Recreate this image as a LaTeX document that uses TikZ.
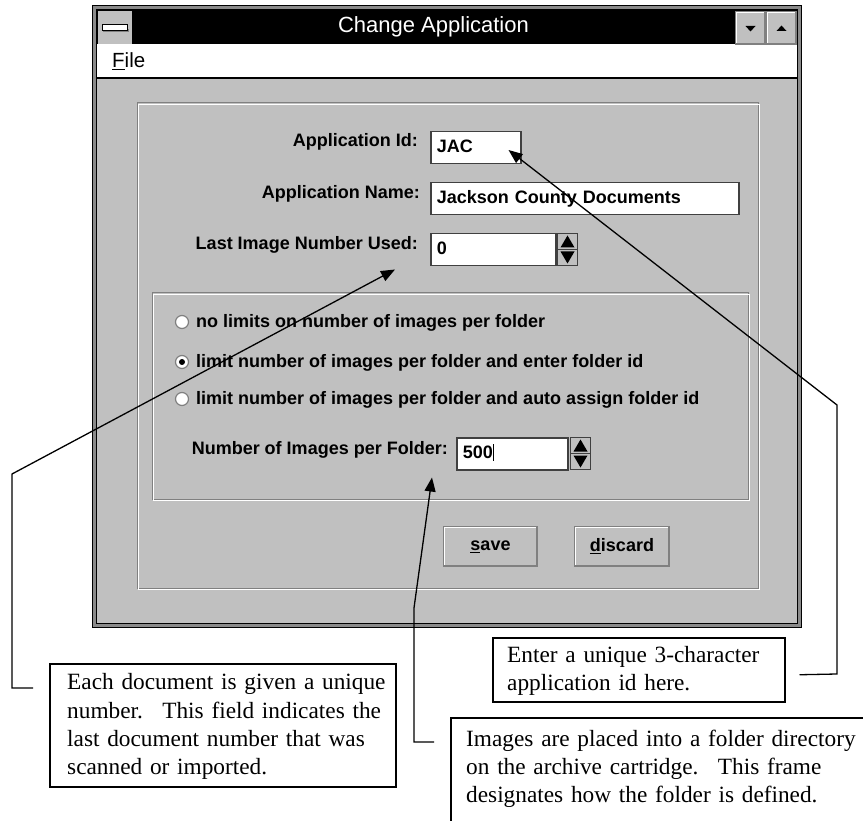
\documentclass[tikz,border=0pt]{standalone}
\usepackage{fontspec}
\setmainfont{Liberation Serif}
\setsansfont{Liberation Sans}
\usetikzlibrary{arrows.meta,calc}
\definecolor{winface}{HTML}{C0C0C0}
\definecolor{winshadow}{HTML}{808080}
\definecolor{winedge}{HTML}{404040}
\definecolor{winframe}{HTML}{8A8A8A}

\begin{document}
\begin{tikzpicture}[x=1pt,y=-1pt,
  uilabel/.style={font=\sffamily\bfseries\fontsize{18}{21}\selectfont, inner sep=0pt},
  fieldbox/.style={draw=winedge, fill=white, line width=1.5pt, anchor=north west,
    inner xsep=6pt, inner ysep=0pt, minimum height=32pt, align=left,
    text height=13pt, text depth=3pt, font=\sffamily\bfseries\fontsize{18}{21}\selectfont},
  spinbox/.style={draw=winedge, fill=winface, line width=1pt, anchor=north west,
    minimum width=20pt, minimum height=32pt, inner sep=0pt},
  raised/.style={draw=winshadow, fill=winface, line width=1pt, anchor=north west, inner sep=0pt,
    path picture={
      \draw[white, line width=3pt] (path picture bounding box.south west) -- (path picture bounding box.north west) -- (path picture bounding box.north east);
      \draw[winshadow, line width=3pt] (path picture bounding box.south west) -- (path picture bounding box.south east) -- (path picture bounding box.north east);}},
  pushbutton/.style={raised, minimum height=40pt, font=\sffamily\bfseries\fontsize{18}{21}\selectfont},
  radio/.style={circle, draw=winshadow, fill=white, line width=1.2pt, minimum size=13pt, inner sep=0pt},
  callout/.style={draw=black, fill=white, line width=1.5pt, anchor=north west, inner sep=0pt},
  callouttext/.style={anchor=north west, inner sep=0pt, text width=430pt, align=left,
    font=\fontsize{23.3}{28.3}\selectfont},
  leader/.style={line width=1.3pt},
  pointer/.style={leader, -{Triangle[length=14pt,width=11pt]}},
]
\useasboundingbox (0,0) rectangle (863,821);
\clip (0,0) rectangle (863,821);
\fill[white] (0,0) rectangle (863,821);

% ---- window frame, title bar, menu bar, client area
\fill[winframe] (92,5) rectangle (802,628);
\draw[black, line width=1pt] (92.5,5.5) rectangle (801.5,627.5);
\fill[black] (96.5,9.5) rectangle (797.5,44);
\fill[white] (97,44) rectangle (797,78);
\draw[black, line width=1.2pt] (97,78) -- (797,78);
\fill[winface] (97,78.6) rectangle (797,623);
\draw[black, line width=1pt] (96.5,9.5) rectangle (797.5,623.5);

% system menu box
\node[fill=winface, anchor=north west, minimum width=34pt, minimum height=33pt, inner sep=0pt] (sysbtn) at (98,11) {};
\fill[winshadow] ($(sysbtn.center)+(-12,1)$) rectangle ($(sysbtn.center)+(14,4.5)$);
\draw[black, fill=white, line width=1pt] ($(sysbtn.center)+(-13,-3)$) rectangle ($(sysbtn.center)+(12,2.5)$);

\node[font=\sffamily\fontsize{22}{26}\selectfont, text=white, anchor=base, inner sep=0pt] (title) at (433.5,33) {Change Application};

% minimize / maximize buttons
\node[raised, minimum width=30pt, minimum height=33pt] (minbtn) at (735,11) {};
\node[raised, minimum width=30pt, minimum height=33pt] (maxbtn) at (766,11) {};
\fill[black] ($(minbtn.center)+(-5,-2)$) -- ($(minbtn.center)+(5,-2)$) -- ($(minbtn.center)+(0,3.5)$) -- cycle;
\fill[black] ($(maxbtn.center)+(-5,3)$) -- ($(maxbtn.center)+(5,3)$) -- ($(maxbtn.center)+(0,-2.5)$) -- cycle;

\node[font=\sffamily\fontsize{20.5}{24}\selectfont, anchor=base west, inner sep=0pt] (filemenu) at (112,68) {\underline{F}ile};

% ---- etched group frames
\draw[winshadow, line width=1pt] (137,103) rectangle (758,588);
\draw[white, line width=1pt] (138.2,104.2) rectangle (759.2,589.2);
\draw[winshadow, line width=1pt] (152,293) rectangle (748,499);
\draw[white, line width=1pt] (153.2,294.2) rectangle (749.2,500.2);

% ---- labelled fields
\node[uilabel, anchor=base east] (appidlbl) at (418,147) {Application Id:};
\node[fieldbox, text width=78pt] (appidbox) at (430,131) {JAC};

\node[uilabel, anchor=base east] (appnamelbl) at (420,199) {Application Name:};
\node[fieldbox, text width=296pt] (appnamebox) at (430,182) {Jackson County Documents};

\node[uilabel, anchor=base east] (lastnumlbl) at (418,250) {Last Image Number Used:};
\node[fieldbox, text width=113pt] (lastnumbox) at (430,233) {0};
\node[spinbox] (lastnumspin) at (557,233) {};
\draw[winedge, line width=1pt] (lastnumspin.west) -- (lastnumspin.east);
\fill[black] ($(lastnumspin.center)+(-7,-2)$) -- ($(lastnumspin.center)+(7,-2)$) -- ($(lastnumspin.center)+(0,-14)$) -- cycle;
\fill[black] ($(lastnumspin.center)+(-7,2)$) -- ($(lastnumspin.center)+(7,2)$) -- ($(lastnumspin.center)+(0,14)$) -- cycle;

% ---- folder options
\node[radio] (opt1radio) at (182,322) {};
\node[radio] (opt2radio) at (182,362) {};
\node[radio] (opt3radio) at (182,399) {};
\fill[black] (opt2radio.center) circle (3);
\node[uilabel, anchor=base west] (opt1) at (196,328) {no limits on number of images per folder};
\node[uilabel, anchor=base west] (opt2) at (196,367) {limit number of images per folder and enter folder id};
\node[uilabel, anchor=base west] (opt3) at (196,404) {limit number of images per folder and auto assign folder id};

\node[uilabel, anchor=base east] (perfolderlbl) at (448,454) {Number of Images per Folder:};
\node[fieldbox, text width=99pt] (perfolderbox) at (456,437) {500\rule[-2pt]{0.9pt}{17pt}};
\node[spinbox] (perfolderspin) at (570,437) {};
\draw[winedge, line width=1pt] (perfolderspin.west) -- (perfolderspin.east);
\fill[black] ($(perfolderspin.center)+(-7,-2)$) -- ($(perfolderspin.center)+(7,-2)$) -- ($(perfolderspin.center)+(0,-14)$) -- cycle;
\fill[black] ($(perfolderspin.center)+(-7,2)$) -- ($(perfolderspin.center)+(7,2)$) -- ($(perfolderspin.center)+(0,14)$) -- cycle;

% ---- push buttons
\node[pushbutton, minimum width=94pt] (savebtn) at (443,526) {\underline{s}ave};
\node[pushbutton, minimum width=95pt] (discardbtn) at (574,526) {\underline{d}iscard};

% ---- callout boxes and their texts
\node[callout, minimum width=346pt, minimum height=123pt] (docnote) at (49,663) {};
\node[callouttext] (doctext) at (67,673.5)
  {Each document is given a unique\\ number.~ This field indicates the\\ last document number that was\\ scanned or imported.};
\node[callout, minimum width=292pt, minimum height=64pt] (enternote) at (492,637) {};
\node[callouttext] (entertext) at (507,645.8)
  {Enter a unique 3-character\\ application id here.};
\node[callout, minimum width=440pt, minimum height=130pt] (foldernote) at (450,717) {};
\node[callouttext] (foldertext) at (466,729.6)
  {Images are placed into a folder directory\\ on the archive cartridge.~ This frame\\ designates how the folder is defined.};

% ---- leader ends and pointer tips
\coordinate (enterlead) at ($(enternote.east)+(14,5)$);
\coordinate (doclead) at ($(docnote.north west)+(-16,25)$);
\coordinate (folderlead) at ($(foldernote.north west)+(-16,25)$);
\coordinate (appidtip) at ($(appidbox.south east)+(-13,-14.5)$);
\coordinate (lastnumtip) at ($(lastnumbox.south west)+(-35,3)$);
\coordinate (perfoldertip) at ($(perfolderbox.south west)+(-24,7)$);

\draw[pointer] (enterlead) -- (837,674) -- (837,405) -- (appidtip);
\draw[pointer] (doclead) -- (12,688) -- (12,474) -- (lastnumtip);
\draw[pointer] (folderlead) -- (414,742) -- (414,608) -- (perfoldertip);
\end{tikzpicture}
\end{document}
